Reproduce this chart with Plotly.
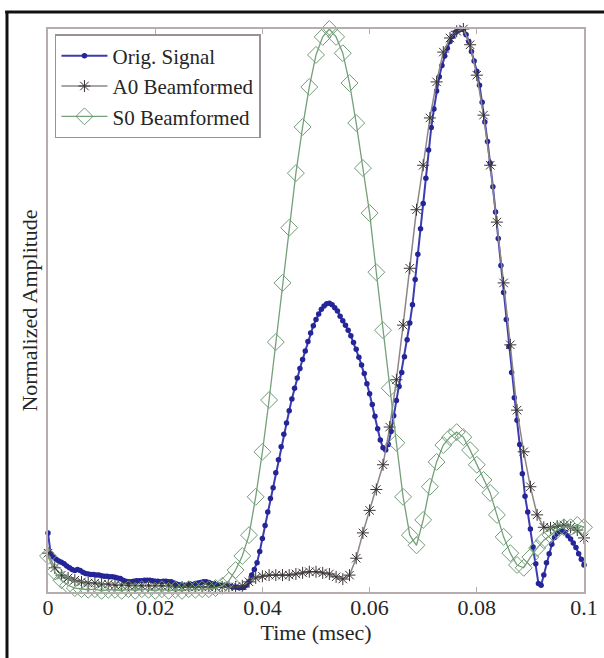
import plotly.graph_objects as go

# ---------------- data ----------------
t_orig = [round(i * 0.0005, 4) for i in range(201)]
orig_signal = [
    0.105, 0.068, 0.062, 0.058, 0.055, 0.053, 0.050, 0.046, 0.043, 0.040,
    0.038, 0.040, 0.038, 0.035, 0.033, 0.032, 0.031, 0.031, 0.030, 0.030,
    0.029, 0.028, 0.028, 0.027, 0.027, 0.026, 0.025, 0.024, 0.021, 0.019,
    0.018, 0.018, 0.019, 0.020, 0.020, 0.020, 0.021, 0.021, 0.021, 0.020,
    0.019, 0.019, 0.018, 0.019, 0.019, 0.018, 0.018, 0.016, 0.014, 0.013,
    0.012, 0.012, 0.012, 0.014, 0.013, 0.015, 0.016, 0.017, 0.018, 0.018,
    0.017, 0.015, 0.014, 0.013, 0.012, 0.012, 0.012, 0.011, 0.010, 0.009,
    0.009, 0.008, 0.008, 0.008, 0.012, 0.018, 0.030, 0.040, 0.052, 0.072,
    0.095, 0.118, 0.142, 0.166, 0.185, 0.212, 0.235, 0.258, 0.280, 0.300,
    0.322, 0.343, 0.362, 0.380, 0.397, 0.413, 0.428, 0.445, 0.460, 0.473,
    0.484, 0.494, 0.502, 0.508, 0.512, 0.513, 0.510, 0.505, 0.499, 0.490,
    0.482, 0.474, 0.465, 0.455, 0.443, 0.431, 0.417, 0.403, 0.388, 0.370,
    0.352, 0.333, 0.312, 0.290, 0.270, 0.256, 0.252, 0.262, 0.285, 0.313,
    0.340, 0.365, 0.390, 0.418, 0.448, 0.478, 0.510, 0.555, 0.600, 0.645,
    0.690, 0.735, 0.785, 0.825, 0.858, 0.890, 0.915, 0.935, 0.952, 0.966,
    0.978, 0.987, 0.994, 0.998, 1.000, 0.999, 0.990, 0.978, 0.960, 0.943,
    0.925, 0.900, 0.870, 0.835, 0.800, 0.762, 0.720, 0.675, 0.628, 0.580,
    0.532, 0.484, 0.436, 0.390, 0.345, 0.305, 0.262, 0.210, 0.170, 0.142,
    0.112, 0.080, 0.050, 0.015, 0.012, 0.030, 0.052, 0.068, 0.085, 0.097,
    0.104, 0.108, 0.110, 0.106, 0.100, 0.094, 0.087, 0.079, 0.068, 0.058,
    0.048,
]

t_beam = [round(k * 0.00125, 5) for k in range(81)]
a0_beamformed = [
    0.069, 0.043, 0.030, 0.025, 0.021, 0.018, 0.016, 0.016, 0.014, 0.014,
    0.012, 0.012, 0.012, 0.011, 0.011, 0.011, 0.011, 0.011, 0.011, 0.009,
    0.009, 0.009, 0.009, 0.009, 0.009, 0.009, 0.009, 0.009, 0.009, 0.011,
    0.018, 0.025, 0.028, 0.030, 0.030, 0.030, 0.030, 0.032, 0.034, 0.036,
    0.036, 0.034, 0.032, 0.027, 0.023, 0.030, 0.060, 0.105, 0.145, 0.182,
    0.226, 0.293, 0.377, 0.474, 0.575, 0.679, 0.758, 0.842, 0.906, 0.959,
    0.984, 0.996, 1.000, 0.972, 0.918, 0.847, 0.758, 0.657, 0.549, 0.439,
    0.323, 0.249, 0.187, 0.137, 0.115, 0.114, 0.117, 0.119, 0.115, 0.110,
    0.096,
]
s0_beamformed = [
    0.064, 0.036, 0.021, 0.012, 0.007, 0.005, 0.004, 0.005, 0.002, 0.004,
    0.004, 0.002, 0.005, 0.002, 0.005, 0.004, 0.002, 0.005, 0.002, 0.004,
    0.002, 0.005, 0.004, 0.005, 0.005, 0.007, 0.011, 0.020, 0.039, 0.064,
    0.101, 0.169, 0.249, 0.341, 0.444, 0.549, 0.647, 0.744, 0.826, 0.897,
    0.954, 0.986, 1.000, 0.986, 0.957, 0.904, 0.833, 0.753, 0.673, 0.568,
    0.465, 0.362, 0.265, 0.169, 0.101, 0.083, 0.128, 0.187, 0.231, 0.261,
    0.275, 0.284, 0.275, 0.252, 0.226, 0.199, 0.176, 0.137, 0.098, 0.069,
    0.048, 0.043, 0.062, 0.078, 0.092, 0.101, 0.110, 0.115, 0.115, 0.119,
    0.115,
]

x_tick_vals = [0, 0.02, 0.04, 0.06, 0.08, 0.1]
x_tick_text = ["0", "0.02", "0.04", "0.06", "0.08", "0.1"]

# ---------------- figure ----------------
SERIF = "Liberation Serif, Times New Roman, serif"
AXIS_COL = "#b5adad"
TEXT_COL = "#262626"

fig = go.Figure()
fig.add_trace(go.Scatter(
    x=t_orig, y=orig_signal, name="Orig. Signal", mode="lines+markers",
    line=dict(color="#3c3cb0", width=2),
    marker=dict(symbol="circle", size=5.5, color="#25259a"),
    cliponaxis=False,
))
fig.add_trace(go.Scatter(
    x=t_beam, y=a0_beamformed, name="A0 Beamformed", mode="lines+markers",
    line=dict(color="#8e8686", width=1.5),
    marker=dict(symbol="asterisk-open", size=10, color="#3a3535",
                line=dict(color="#3a3535", width=1)),
    cliponaxis=False,
))
fig.add_trace(go.Scatter(
    x=t_beam, y=s0_beamformed, name="S0 Beamformed", mode="lines+markers",
    line=dict(color="#74a07a", width=1.3),
    marker=dict(symbol="diamond-open", size=13, color="#6f9c76",
                line=dict(color="#6f9c76", width=1)),
    cliponaxis=False,
))

# outer black frame: top and left edges
fig.add_shape(type="line", xref="paper", yref="paper", layer="above",
              x0=-0.08, x1=1.04, y0=1.03, y1=1.03,
              line=dict(color="#111111", width=3))
fig.add_shape(type="line", xref="paper", yref="paper", layer="above",
              x0=-0.0765, x1=-0.0765, y0=1.03, y1=-0.13,
              line=dict(color="#111111", width=3))

fig.update_layout(
    width=604, height=658,
    margin=dict(l=48, r=20, t=29, b=66, autoexpand=False),
    paper_bgcolor="white", plot_bgcolor="white",
    font=dict(family=SERIF, size=22, color=TEXT_COL),
    showlegend=True,
    legend=dict(
        x=0.013, y=0.991, xanchor="left", yanchor="top",
        bgcolor="white", bordercolor="#9a9292", borderwidth=1.5,
        font=dict(family=SERIF, size=21, color=TEXT_COL),
        tracegroupgap=0, itemwidth=46,
    ),
    xaxis=dict(
        range=[0, 0.1], tickvals=x_tick_vals, ticktext=x_tick_text,
        showline=True, linecolor=AXIS_COL, linewidth=2, mirror="ticks",
        ticks="inside", ticklen=5, tickcolor=AXIS_COL, tickwidth=1,
        showgrid=False, zeroline=False, automargin=False,
        ticklabelstandoff=-5,
        title=dict(text="Time (msec)", font=dict(size=22), standoff=0),
        tickfont=dict(size=22),
    ),
    yaxis=dict(
        range=[0, 1], showticklabels=False, ticks="",
        showline=True, linecolor=AXIS_COL, linewidth=2, mirror=True,
        showgrid=False, zeroline=False, automargin=False,
        title=dict(text="Normalized Amplitude", font=dict(size=22), standoff=2),
    ),
)

fig.write_html(
    "out.html",
    config={"displayModeBar": False},
    post_script="document.body.style.margin='0';document.body.style.padding='0';",
)
